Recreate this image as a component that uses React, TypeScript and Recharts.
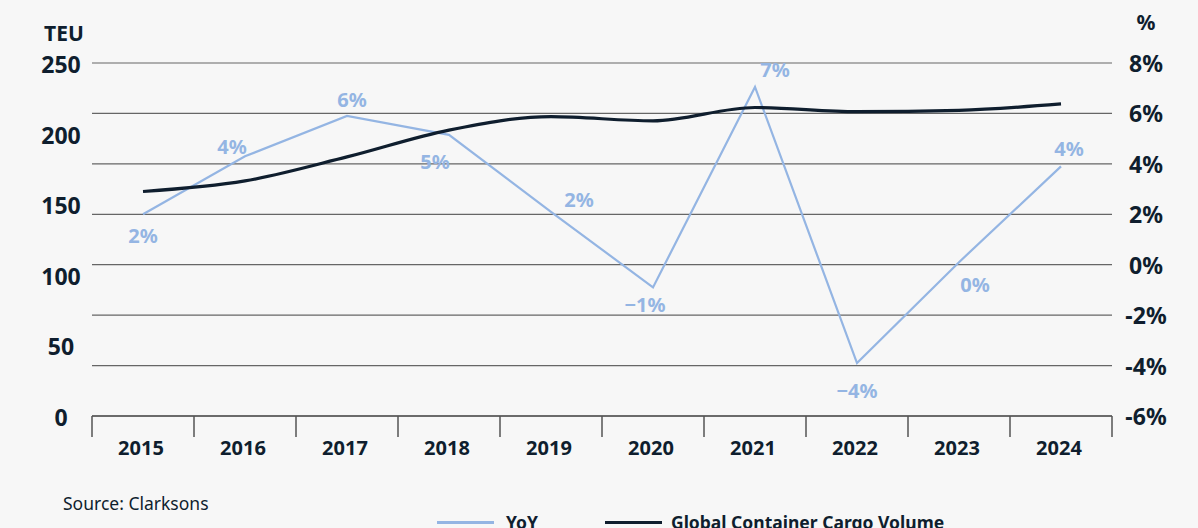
import { LineChart, Line, XAxis, YAxis, CartesianGrid, LabelList } from 'recharts';

const years = ['2015', '2016', '2017', '2018', '2019', '2020', '2021', '2022', '2023', '2024'];
// Global Container Cargo Volume, million TEU (left axis)
const volumeTeu = [159, 166.5, 183.5, 202.5, 212, 209, 218.5, 215.5, 216.5, 221];
// YoY growth, % (right axis)
const yoyPct = [2.0, 4.3, 5.9, 5.15, 2.1, -0.9, 7.05, -3.9, 0.1, 3.9];
const yoyLabels = ['2%', '4%', '6%', '5%', '2%', '−1%', '7%', '−4%', '0%', '4%'];
const teuTicks = [0, 50, 100, 150, 200, 250];
const pctTicks = [-6, -4, -2, 0, 2, 4, 6, 8];

// label nudges relative to each YoY point [dx, dy]
const yoyLabelNudge = [
  [0, 21], [-13, -10], [5, -16], [-14, 27], [28, -12],
  [-8, 17], [20, -17], [0, 27], [16, 22], [8, -18],
];

const data = years.map((year, i) => ({ year, volume: volumeTeu[i], yoy: yoyPct[i] }));

const NAVY = '#0f1e2e';
const BLUE = '#94b5e3';
const FONT = '"Noto Sans", sans-serif';

const YearTick = (props: any) => {
  const { x, y, payload, index } = props;
  const half = payload.offset || 51;
  return (
    <g>
      <line x1={x - half} x2={x - half} y1={y} y2={y + 21} stroke="#555" strokeWidth={1.5} />
      {index === years.length - 1 && (
        <line x1={x + half} x2={x + half} y1={y} y2={y + 21} stroke="#555" strokeWidth={1.5} />
      )}
      <text x={x - 2} y={y + 31} textAnchor="middle" dominantBaseline="central"
        fontFamily={FONT} fontWeight={700} fontSize={20} fill={NAVY}>
        {payload.value}
      </text>
    </g>
  );
};

const LeftTick = (props: any) => {
  const { x, y, payload } = props;
  return (
    <text x={x - 31} y={y + 1} textAnchor="middle" dominantBaseline="central"
      fontFamily={FONT} fontWeight={700} fontSize={23} fill={NAVY}>
      {payload.value}
    </text>
  );
};

const RightTick = (props: any) => {
  const { x, y, payload } = props;
  return (
    <text x={x + 34} y={y} textAnchor="middle" dominantBaseline="central"
      fontFamily={FONT} fontWeight={700} fontSize={23} fill={NAVY}>
      {`${payload.value}%`}
    </text>
  );
};

const YoyLabel = (props: any) => {
  const { x, y, index } = props;
  const [dx, dy] = yoyLabelNudge[index];
  return (
    <text x={x + dx} y={y + dy} textAnchor="middle" dominantBaseline="central"
      fontFamily={FONT} fontWeight={700} fontSize={20} fill={BLUE}>
      {yoyLabels[index]}
    </text>
  );
};

const AxisTitle = (text: string, dx: number, dy: number) => (props: any) => {
  const { viewBox } = props;
  return (
    <text x={viewBox.x + dx} y={viewBox.y + dy} textAnchor="middle" dominantBaseline="central"
      fontFamily={FONT} fontWeight={700} fontSize={21} fill={NAVY}>
      {text}
    </text>
  );
};

export default function App() {
  return (
    <div style={{ position: 'absolute', left: 0, top: 0, width: 1198, height: 528, background: '#f7f7f7', overflow: 'hidden' }}>
      <LineChart width={1198} height={528} data={data} margin={{ top: 63, right: 0, bottom: 72, left: 0 }}>
        <CartesianGrid yAxisId="pct" vertical={false} stroke="#666" strokeWidth={1.2} />
        <XAxis dataKey="year" scale="band" height={40} tick={<YearTick />} tickLine={false} tickSize={0} tickMargin={0}
          axisLine={{ stroke: '#555', strokeWidth: 1.5 }} interval={0} />
        <YAxis yAxisId="teu" orientation="left" width={92} domain={[0, 250]} ticks={teuTicks}
          axisLine={false} tickLine={false} tickSize={0} tickMargin={0} tick={<LeftTick />}
          label={{ content: AxisTitle('TEU', 64, -30) }} />
        <YAxis yAxisId="pct" orientation="right" width={86} domain={[-6, 8]} ticks={pctTicks}
          axisLine={false} tickLine={false} tickSize={0} tickMargin={0} tick={<RightTick />}
          label={{ content: AxisTitle('%', 34, -41) }} />
        <Line yAxisId="pct" dataKey="yoy" name="YoY" type="linear" stroke={BLUE} strokeWidth={2.2}
          dot={false} isAnimationActive={false}>
          <LabelList dataKey="yoy" content={<YoyLabel />} />
        </Line>
        <Line yAxisId="teu" dataKey="volume" name="Global Container Cargo Volume" type="monotone"
          stroke={NAVY} strokeWidth={3.2} dot={false} isAnimationActive={false} />
      </LineChart>
      <div style={{ position: 'absolute', left: 63, top: 491, fontFamily: FONT, fontSize: 17.5, color: NAVY, lineHeight: '24px' }}>
        Source: Clarksons
      </div>
      <div style={{ position: 'absolute', left: 437, top: 511, height: 22, display: 'flex', alignItems: 'center', fontFamily: FONT, fontWeight: 700, fontSize: 17.5, color: NAVY }}>
        <span style={{ display: 'inline-block', width: 57, height: 3, background: BLUE, marginRight: 12 }} />
        <span style={{ marginRight: 67 }}>YoY</span>
        <span style={{ display: 'inline-block', width: 57, height: 3, background: NAVY, marginRight: 9 }} />
        <span>Global Container Cargo Volume</span>
      </div>
    </div>
  );
}
